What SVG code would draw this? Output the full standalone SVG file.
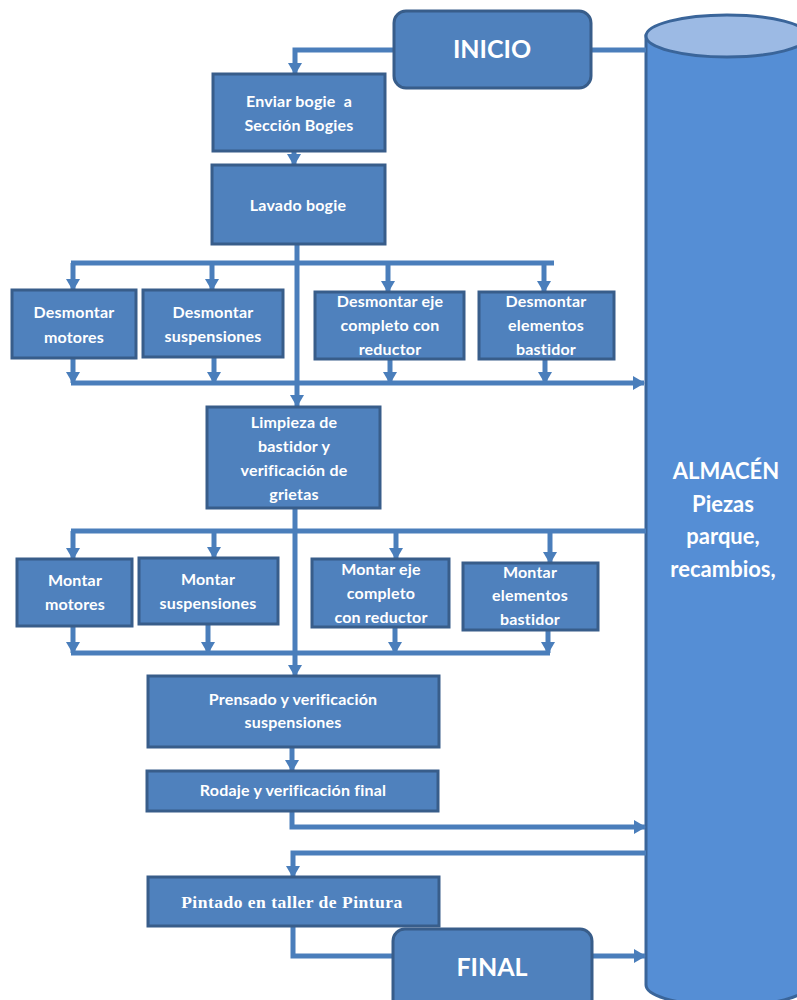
<svg xmlns="http://www.w3.org/2000/svg" width="797" height="1000" viewBox="0 0 797 1000">
<style>
.box{fill:#4F81BD;stroke:#385D8A;stroke-width:3}
.t{font-family:Lato,"Open Sans",sans-serif;font-weight:bold;font-size:16px;letter-spacing:0.2px;fill:#FFFFFF;text-anchor:middle}
.big{font-family:Lato,"Open Sans",sans-serif;font-weight:bold;font-size:25px;fill:#FFFFFF;text-anchor:middle}
.alm{font-family:Lato,"Open Sans",sans-serif;font-weight:bold;font-size:22px;fill:#FFFFFF;text-anchor:middle}
.serif{font-family:"Liberation Serif",serif;font-weight:bold;font-size:17.5px;fill:#FFFFFF;text-anchor:middle;letter-spacing:0.5px}
.c{fill:none;stroke:#4A7EBB;stroke-width:5}
.a{marker-end:url(#ah)}
</style>
<defs>
<marker id="ah" markerUnits="userSpaceOnUse" markerWidth="12" markerHeight="14" refX="11" refY="7" orient="auto">
<path d="M0,0 L12,7 L0,14 z" fill="#4A7EBB"/>
</marker>
</defs>

<g id="almacen">
<path d="M646,36 V985 A81,21 0 0 0 808,985 V36 Z" fill="#558ED5" stroke="#3A659A" stroke-width="3"/>
<ellipse cx="727" cy="36" rx="81" ry="21" fill="#9CBAE4" stroke="#3A659A" stroke-width="3"/>
<text class="alm" x="726" y="479">ALMACÉN</text>
<text class="alm" x="723" y="512">Piezas</text>
<text class="alm" x="723" y="544">parque,</text>
<text class="alm" x="723" y="577">recambios,</text>
</g>

<g id="connectors">
<polyline class="c a" points="394,50 295,50 295,74"/>
<line class="c" x1="592" y1="50" x2="646" y2="50"/>
<line class="c a" x1="294" y1="151" x2="294" y2="165"/>
<line class="c a" x1="297" y1="244" x2="297" y2="406"/>
<line class="c" x1="71" y1="263" x2="554" y2="263"/>
<line class="c a" x1="73" y1="263" x2="73" y2="290"/>
<line class="c a" x1="212" y1="263" x2="212" y2="290"/>
<line class="c a" x1="388" y1="263" x2="388" y2="292"/>
<line class="c a" x1="544" y1="263" x2="544" y2="292"/>
<line class="c a" x1="73" y1="358" x2="73" y2="383"/>
<line class="c a" x1="214" y1="357" x2="214" y2="383"/>
<line class="c a" x1="390" y1="359" x2="390" y2="383"/>
<line class="c a" x1="545" y1="359" x2="545" y2="383"/>
<line class="c a" x1="71" y1="383" x2="644" y2="383"/>
<line class="c a" x1="295" y1="508" x2="295" y2="676"/>
<line class="c" x1="646" y1="531" x2="71" y2="531"/>
<line class="c a" x1="73" y1="531" x2="73" y2="559"/>
<line class="c a" x1="214" y1="531" x2="214" y2="558"/>
<line class="c a" x1="396" y1="531" x2="396" y2="559"/>
<line class="c a" x1="550" y1="531" x2="550" y2="563"/>
<line class="c a" x1="73" y1="626" x2="73" y2="653"/>
<line class="c a" x1="208" y1="624" x2="208" y2="653"/>
<line class="c a" x1="395" y1="627" x2="395" y2="653"/>
<line class="c a" x1="548" y1="630" x2="548" y2="653"/>
<line class="c" x1="71" y1="653" x2="550" y2="653"/>
<line class="c a" x1="292" y1="747" x2="292" y2="771"/>
<polyline class="c a" points="292,811 292,827 645,827"/>
<polyline class="c a" points="646,853 293,853 293,877"/>
<polyline class="c" points="293,926 293,956 395,956"/>
<line class="c a" x1="592" y1="956" x2="645" y2="956"/>
</g>

<g id="inicio">
<rect class="box" x="394" y="11" width="197" height="77" rx="12"/>
<text class="big" x="492" y="58">INICIO</text>
</g>
<g id="enviar">
<rect class="box" x="213" y="74" width="172" height="77"/>
<text class="t" x="299" y="107" xml:space="preserve">Enviar bogie  a</text>
<text class="t" x="299" y="131">Sección Bogies</text>
</g>
<g id="lavado">
<rect class="box" x="212" y="165" width="173" height="79"/>
<text class="t" x="298" y="211">Lavado bogie</text>
</g>
<g id="d-motores">
<rect class="box" x="12" y="290" width="124" height="68"/>
<text class="t" x="74" y="318">Desmontar</text>
<text class="t" x="74" y="343">motores</text>
</g>
<g id="d-susp">
<rect class="box" x="143" y="290" width="140" height="67"/>
<text class="t" x="213" y="318">Desmontar</text>
<text class="t" x="213" y="342">suspensiones</text>
</g>
<g id="d-eje">
<rect class="box" x="315" y="292" width="149" height="67"/>
<text class="t" x="390" y="307">Desmontar eje</text>
<text class="t" x="390" y="331">completo con</text>
<text class="t" x="390" y="355">reductor</text>
</g>
<g id="d-elem">
<rect class="box" x="479" y="292" width="135" height="67"/>
<text class="t" x="546" y="307">Desmontar</text>
<text class="t" x="546" y="331">elementos</text>
<text class="t" x="546" y="355">bastidor</text>
</g>
<g id="limpieza">
<rect class="box" x="207" y="407" width="173" height="101"/>
<text class="t" x="294" y="428">Limpieza de</text>
<text class="t" x="294" y="452">bastidor y</text>
<text class="t" x="294" y="476">verificación de</text>
<text class="t" x="294" y="500">grietas</text>
</g>
<g id="m-motores">
<rect class="box" x="17" y="559" width="115" height="67"/>
<text class="t" x="75" y="586">Montar</text>
<text class="t" x="75" y="610">motores</text>
</g>
<g id="m-susp">
<rect class="box" x="139" y="558" width="139" height="66"/>
<text class="t" x="208" y="585">Montar</text>
<text class="t" x="208" y="609">suspensiones</text>
</g>
<g id="m-eje">
<rect class="box" x="312" y="559" width="137" height="68"/>
<text class="t" x="381" y="575">Montar eje</text>
<text class="t" x="381" y="599">completo</text>
<text class="t" x="381" y="623">con reductor</text>
</g>
<g id="m-elem">
<rect class="box" x="463" y="563" width="135" height="67"/>
<text class="t" x="530" y="578">Montar</text>
<text class="t" x="530" y="601">elementos</text>
<text class="t" x="530" y="625">bastidor</text>
</g>
<g id="prensado">
<rect class="box" x="148" y="676" width="291" height="71"/>
<text class="t" x="293" y="705">Prensado y verificación</text>
<text class="t" x="293" y="728">suspensiones</text>
</g>
<g id="rodaje">
<rect class="box" x="147" y="771" width="291" height="40"/>
<text class="t" x="293" y="796">Rodaje y verificación final</text>
</g>
<g id="pintado">
<rect class="box" x="148" y="877" width="291" height="49"/>
<text class="serif" x="292" y="908">Pintado en taller de Pintura</text>
</g>
<g id="final">
<rect class="box" x="393" y="929" width="199" height="85" rx="12"/>
<text class="big" x="492" y="976">FINAL</text>
</g>
</svg>
